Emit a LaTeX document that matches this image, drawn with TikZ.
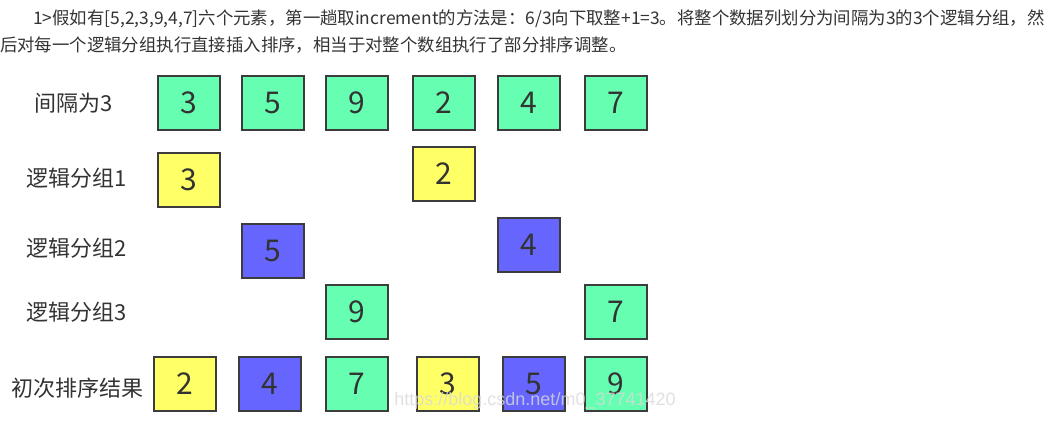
\documentclass[tikz,border=0pt]{standalone}
\usepackage{fontspec}
\usepackage{xcolor}
\newfontfamily\cjk{Noto Sans CJK SC}
\newfontfamily\wmfont{Liberation Sans}
\definecolor{gapcolor}{RGB}{102, 255, 178}
\definecolor{groupone}{RGB}{255, 255, 102}
\definecolor{grouptwo}{RGB}{102, 102, 255}
\definecolor{cellline}{RGB}{60, 60, 60}
\definecolor{textdark}{RGB}{51, 51, 51}

\begin{document}
\begin{tikzpicture}[
    x=1pt, y=-1pt,
    cell/.style={rectangle, draw=cellline, line width=2pt,
                 minimum width=62pt, minimum height=54pt, inner sep=0pt,
                 font=\cjk\fontsize{30}{30}\selectfont, text=textdark},
    rowlabel/.style={inner sep=0pt, font=\cjk\fontsize{22}{22}\selectfont, text=textdark},
    intro/.style={anchor=base west, inner sep=0pt, font=\cjk\fontsize{17.4}{17.4}\selectfont, text=textdark}
]

\fill[white] (0,0) rectangle (1060,427);
\useasboundingbox (0,0) rectangle (1060,427);

% Intro text
\node[intro] (introa) at (33,25) {1>假如有[5,2,3,9,4,7]六个元素，第一趟取increment的方法是：6/3向下取整+1=3。将整个数据列划分为间隔为3的3个逻辑分组，然};
\node[intro] (introb) at (0,52) {后对每一个逻辑分组执行直接插入排序，相当于对整个数组执行了部分排序调整。};

% Row labels
\node[rowlabel] (lgap) at (74,103) {间隔为3};
\node[rowlabel] (lone) at (77,178) {逻辑分组1};
\node[rowlabel] (ltwo) at (77,248) {逻辑分组2};
\node[rowlabel] (lthree) at (77,312) {逻辑分组3};
\node[rowlabel] (lresult) at (77,388) {初次排序结果};

% Row 1: whole array
\node[cell, fill=gapcolor] (a1) at (189,103) {3};
\node[cell, fill=gapcolor] (a2) at (273,103) {5};
\node[cell, fill=gapcolor] (a3) at (357,103) {9};
\node[cell, fill=gapcolor] (a4) at (444,103) {2};
\node[cell, fill=gapcolor] (a5) at (529,103) {4};
\node[cell, fill=gapcolor] (a6) at (616,103) {7};

% Group 1
\node[cell, fill=groupone] (g1a) at (189,180) {3};
\node[cell, fill=groupone] (g1b) at (444,174) {2};

% Group 2
\node[cell, fill=grouptwo] (g2a) at (273,251) {5};
\node[cell, fill=grouptwo] (g2b) at (529,245) {4};

% Group 3
\node[cell, fill=gapcolor] (g3a) at (357,312) {9};
\node[cell, fill=gapcolor] (g3b) at (616,312) {7};

% Row 5: after first pass
\node[cell, fill=groupone] (r1) at (185,384) {2};
\node[cell, fill=grouptwo] (r2) at (270,384) {4};
\node[cell, fill=gapcolor] (r3) at (357,384) {7};
\node[cell, fill=groupone] (r4) at (448,384) {3};
\node[cell, fill=grouptwo] (r5) at (534,384) {5};
\node[cell, fill=gapcolor] (r6) at (616,384) {9};

% Watermark
\node[inner sep=0pt, text=gray!30, opacity=0.8, font=\wmfont\fontsize{18}{18}\selectfont] (mark) at (535,401) {https://blog.csdn.net/m0\_37741420};

\end{tikzpicture}
\end{document}
